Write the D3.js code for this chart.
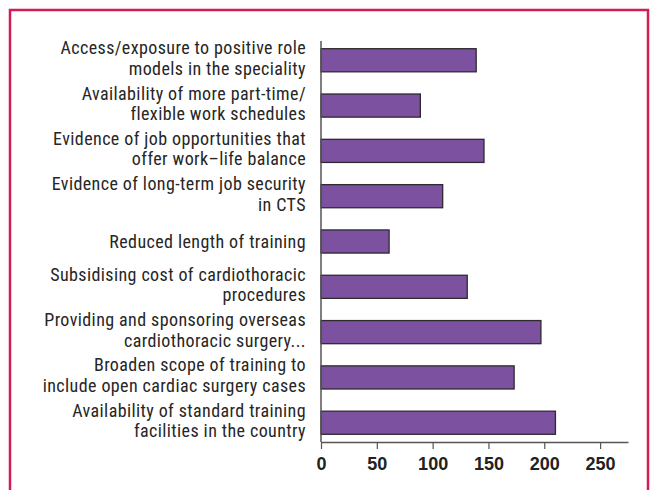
<!DOCTYPE html>
<html>
<head>
<meta charset="utf-8">
<script src="https://cdn.jsdelivr.net/npm/d3@7"></script>
<style>
    body { margin: 0; background: #fff; }
    .label { font-family: "Liberation Sans Narrow", "Roboto Condensed", "Liberation Sans", sans-serif; font-size: 18px; letter-spacing: 0.4px; fill: #262626; }
    .tick-label { font-family: "Liberation Sans", Arial, sans-serif; font-weight: bold; font-size: 18px; fill: #222; }
</style>
</head>
<body>
<div id="chart"></div>
<script>
var categories = [
    ["Access/exposure to positive role", "models in the speciality"],
    ["Availability of more part-time/", "flexible work schedules"],
    ["Evidence of job opportunities that", "offer work\u2013life balance"],
    ["Evidence of long-term job security", "in CTS"],
    ["Reduced length of training"],
    ["Subsidising cost of cardiothoracic", "procedures"],
    ["Providing and sponsoring overseas", "cardiothoracic surgery..."],
    ["Broaden scope of training to", "include open cardiac surgery cases"],
    ["Availability of standard training", "facilities in the country"]
];
var values = [139, 89, 146, 109, 61, 131, 197, 173, 210];
var xTicks = [0, 50, 100, 150, 200, 250];
var xMax = 275;

var svgWidth = 654;
var svgHeight = 490;

var svg = d3.select("#chart")
    .append("svg")
    .attr("width", svgWidth)
    .attr("height", svgHeight);

// red frame, bottom edge runs off the page
svg.append("rect")
    .attr("x", 10)
    .attr("y", 10)
    .attr("width", 638)
    .attr("height", 500)
    .attr("fill", "none")
    .attr("stroke", "#d41b52")
    .attr("stroke-width", 2.5);

var xScale = d3.scaleLinear()
    .domain([0, xMax])
    .range([321, 628]);

var yScale = d3.scaleBand()
    .domain(d3.range(categories.length))
    .range([41, 442])
    .paddingInner(0.49)
    .paddingOuter(0.17);

svg.selectAll(".bar")
    .data(values)
    .enter()
    .append("rect")
    .classed("bar", true)
    .attr("x", xScale(0))
    .attr("y", (d, i) => yScale(i))
    .attr("width", d => xScale(d) - xScale(0))
    .attr("height", yScale.bandwidth())
    .attr("fill", "#7b51a0")
    .attr("stroke", "#2e2a30")
    .attr("stroke-width", 1.3);

// axes
var xAxis = d3.axisBottom(xScale)
    .tickValues(xTicks)
    .tickSize(7)
    .tickPadding(8)
    .tickSizeOuter(0);

var xg = svg.append("g")
    .attr("transform", "translate(0,442)")
    .call(xAxis);

xg.attr("font-family", null).attr("font-size", null);
xg.select(".domain").attr("stroke", "#555").attr("stroke-width", 1.5);
xg.selectAll(".tick line").attr("stroke", "#555").attr("stroke-width", 1.2);
xg.selectAll(".tick text")
    .attr("class", "tick-label")
    .attr("fill", null);

svg.append("line")
    .attr("x1", xScale(0))
    .attr("x2", xScale(0))
    .attr("y1", 41)
    .attr("y2", 442)
    .attr("stroke", "#555")
    .attr("stroke-width", 1.5);

// category labels, one or two lines centred on the bar
var labels = svg.selectAll(".label")
    .data(categories)
    .enter()
    .append("text")
    .classed("label", true)
    .attr("text-anchor", "end");

labels.each(function(lines, i) {
    var cy = yScale(i) + yScale.bandwidth() / 2;
    var t = d3.select(this);
    if (lines.length == 1) {
        t.append("tspan").attr("x", 306).attr("y", cy + 6).text(lines[0]);
    } else {
        t.append("tspan").attr("x", 306).attr("y", cy - 6).text(lines[0]);
        t.append("tspan").attr("x", 306).attr("y", cy + 14.5).text(lines[1]);
    }
});
</script>
</body>
</html>
